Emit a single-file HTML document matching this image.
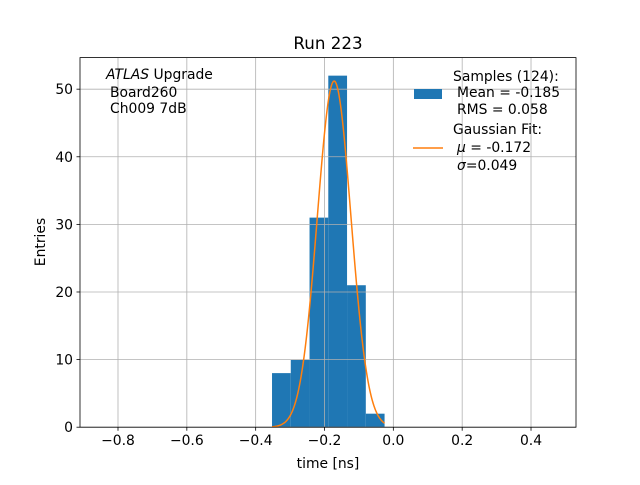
<!DOCTYPE html>
<html><head><meta charset="utf-8"><style>
body{margin:0;background:#fff}
svg text{font-family:"DejaVu Sans","Liberation Sans",sans-serif;fill:#000}
</style></head><body>
<svg id="chart" width="640" height="480" viewBox="0 0 640 480" xmlns="http://www.w3.org/2000/svg">
<rect width="640" height="480" fill="#fff"/>
<g id="bars"></g>
<g id="grid"></g>
<path id="fit" fill="none" stroke="#ff7f0e" stroke-width="1.5"/>
<rect x="80" y="57.6" width="496" height="369.6" fill="none" stroke="#000" stroke-width="0.8"/>
<g id="ticks"></g>
<text x="328" y="49" font-size="16.7" text-anchor="middle">Run 223</text>
<text x="328" y="468" font-size="13.9" text-anchor="middle">time [ns]</text>
<text x="45" y="242" font-size="13.9" text-anchor="middle" transform="rotate(-90 45 242)">Entries</text>
<g font-size="13.9">
<text x="106" y="79"><tspan font-style="italic">ATLAS</tspan> Upgrade</text>
<text x="110" y="97">Board260</text>
<text x="110" y="113">Ch009 7dB</text>
</g>
<g font-size="13.9">
<rect x="414" y="89" width="28" height="10" fill="#1f77b4"/>
<text x="453" y="81">Samples (124):</text>
<text x="457" y="97">Mean = -0.185</text>
<text x="457" y="114">RMS = 0.058</text>
<line x1="413" y1="148" x2="443" y2="148" stroke="#ff7f0e" stroke-width="1.5"/>
<text x="453" y="134">Gaussian Fit:</text>
<text x="457" y="152"><tspan font-style="italic">μ</tspan> = -0.172</text>
<text x="457" y="170"><tspan font-style="italic">σ</tspan>=0.049</text>
</g>
</svg>
<script>
const binEdges=[-0.3525,-0.298,-0.2435,-0.189,-0.1345,-0.08,-0.0255];
const counts=[8,10,31,52,21,2];
const fitMu=-0.172, fitSigma=0.049, fitAmp=51.2;
const xTicks=[-0.8,-0.6,-0.4,-0.2,0.0,0.2,0.4];
const xTickLabels=["−0.8","−0.6","−0.4","−0.2","0.0","0.2","0.4"];
const yTicks=[0,10,20,30,40,50];
const yTickLabels=["0","10","20","30","40","50"];
const NS="http://www.w3.org/2000/svg";
const X0=80,X1=576,Y0=427.2,Y1=57.6,xmin=-0.9104,xmax=0.5307,ymin=0,ymax=54.67;
const sx=v=>X0+(v-xmin)/(xmax-xmin)*(X1-X0);
const sy=v=>Y0-(v-ymin)/(ymax-ymin)*(Y0-Y1);
function mk(tag,attrs,parent){const e=document.createElementNS(NS,tag);for(const k in attrs)e.setAttribute(k,attrs[k]);parent.appendChild(e);return e;}
const grid=document.getElementById('grid'),ticks=document.getElementById('ticks'),bars=document.getElementById('bars');
xTicks.forEach((t,i)=>{const x=sx(t);
const g=mk('line',{x1:x,x2:x,y1:Y1,y2:Y0,stroke:'#b0b0b0','stroke-width':0.8},grid);


mk('line',{x1:x,x2:x,y1:Y0,y2:Y0+3.5,stroke:'#000','stroke-width':0.8},ticks);
const tx=mk('text',{x:x,y:Y0+18,'font-size':13.9,'text-anchor':'middle'},ticks);tx.textContent=xTickLabels[i];

});
yTicks.forEach((t,i)=>{const y=sy(t);
const g=mk('line',{x1:X0,x2:X1,y1:y,y2:y,stroke:'#b0b0b0','stroke-width':0.8},grid);


mk('line',{x1:X0-3.5,x2:X0,y1:y,y2:y,stroke:'#000','stroke-width':0.8},ticks);
const tx=mk('text',{x:X0-7,y:y+5,'font-size':13.9,'text-anchor':'end'},ticks);tx.textContent=yTickLabels[i];

});
counts.forEach((c,i)=>{const xa=sx(binEdges[i]),xb=sx(binEdges[i+1]);
const r=mk('rect',{x:xa,y:sy(c),width:xb-xa,height:sy(0)-sy(c),fill:'#1f77b4'},bars);

});
let d='';const a=binEdges[0],b=binEdges[binEdges.length-1];
for(let k=0;k<=200;k++){const v=a+(b-a)*k/200;const yv=fitAmp*Math.exp(-0.5*((v-fitMu)/fitSigma)**2);d+=(k?'L':'M')+sx(v).toFixed(2)+','+sy(yv).toFixed(2);}
document.getElementById('fit').setAttribute('d',d);
</script>
</body></html>
